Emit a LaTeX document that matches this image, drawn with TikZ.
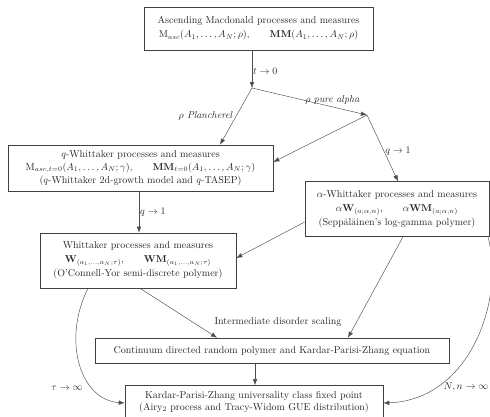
\documentclass[tikz,border=0pt]{standalone}
\usepackage{amsmath}
\usetikzlibrary{arrows.meta}
\begin{document}
\begin{tikzpicture}[x=1pt,y=-1pt,
  box/.style={draw=black!75,line width=0.6pt,align=center,inner sep=0pt,text=black!85},
  arr/.style={draw=black!70,line width=0.45pt,-{Latex[length=6pt,width=4.5pt]}},
  lab/.style={text=black!85,inner sep=1pt}]
\useasboundingbox (0,0) rectangle (490,416);
\node[box,minimum width=229pt,minimum height=43pt] (mac) at (258.5,28.5)
  {Ascending Macdonald processes and measures\\[2pt]
   $\mathrm{M}_{asc}(A_1,\ldots,A_N;\rho)$,\qquad $\mathbf{MM}(A_1,\ldots,A_N;\rho)$};
\node[box,minimum width=265pt,minimum height=46pt] (qw) at (140.5,168)
  {$q$-Whittaker processes and measures\\[1pt]
   $\mathrm{M}_{asc,t=0}(A_1,\ldots,A_N;\gamma)$,\qquad $\mathbf{MM}_{t=0}(A_1,\ldots,A_N;\gamma)$\\[1pt]
   ($q$-Whittaker 2d-growth model and $q$-TASEP)};
\node[box,minimum width=184pt,minimum height=55pt] (aw) at (397,209)
  {$\alpha$-Whittaker processes and measures\\[2pt]
   $\alpha\mathbf{W}_{(a;\alpha,n)}$,\qquad $\alpha\mathbf{WM}_{(a;\alpha,n)}$\\[2pt]
   (Sepp\"al\"ainen's log-gamma polymer)};
\node[box,minimum width=196pt,minimum height=55pt] (w) at (138,260.5)
  {Whittaker processes and measures\\[2pt]
   $\mathbf{W}_{(a_1,\ldots,a_N;\tau)}$,\qquad $\mathbf{WM}_{(a_1,\ldots,a_N;\tau)}$\\[2pt]
   (O'Connell-Yor semi-discrete polymer)};
\node[box,minimum width=354pt,minimum height=25pt] (cdrp) at (272,350.5)
  {Continuum directed random polymer and Kardar-Parisi-Zhang equation};
\node[box,minimum width=258pt,minimum height=33pt] (kpz) at (254,402)
  {Kardar-Parisi-Zhang universality class fixed point\\
   (Airy$_2$ process and Tracy-Widom GUE distribution)};
\coordinate (A) at (252,88);
\coordinate (B) at (367,115);
\draw[arr] (mac.south -| A) -- node[lab,right,pos=0.55] {$t\to0$} (A);
\draw[arr] (A) -- node[lab,left,pos=0.5,xshift=-2pt] {$\rho$ \textit{Plancherel}} (qw.north -| 220,0);
\draw[arr] (A) -- node[lab,above,pos=0.7,yshift=1pt] {$\rho$ \textit{pure alpha}} (B);
\draw[arr] (B) -- (qw.east |- 0,162);
\draw[arr] (B) -- node[lab,right,pos=0.55] {$q\to1$} (aw.north -| 398,0);
\draw[arr] (qw.south -| 139,0) -- node[lab,right] {$q\to1$} (w.north -| 139,0);
\draw[arr] (aw.west |- 0,222) -- (w.east |- 0,258);
\draw[arr] (w.south -| 140,0) -- (cdrp.north -| 217,0);
\draw[arr] (aw.south -| 403,0) -- (cdrp.north -| 348,0);
\node[lab] (ids) at (278,322) {Intermediate disorder scaling};
\draw[arr] (cdrp.south -| 255,0) -- (kpz.north -| 255,0);
\draw[arr] (w.south -| 88,0) .. controls (62,340) and (80,400) .. (kpz.west |- 0,403);
\node[lab] (tau) at (67,388) {$\tau\to\infty$};
\draw[arr] (aw.south -| 488,0) .. controls (505,300) and (470,400) .. (kpz.east |- 0,403);
\node[lab] (Nn) at (466,387) {$N,n\to\infty$};
\end{tikzpicture}
\end{document}
